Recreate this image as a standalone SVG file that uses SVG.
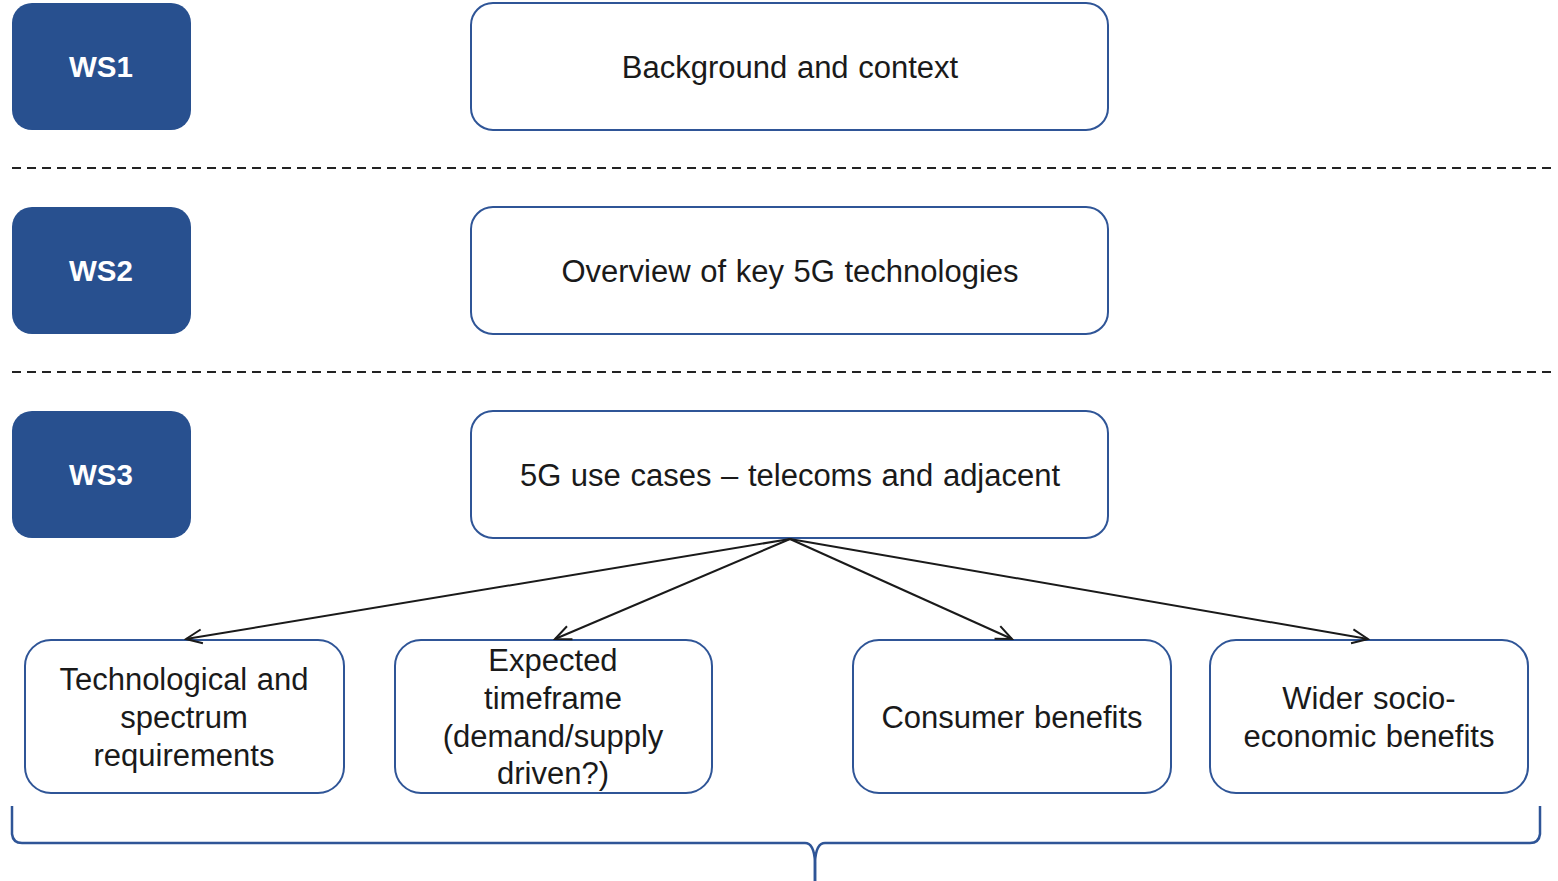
<svg xmlns="http://www.w3.org/2000/svg" width="1558" height="881" viewBox="0 0 1558 881">
<style>
.ws{fill:#28508F;}
.wst{fill:#fff;font-family:"Liberation Sans",Arial,sans-serif;font-weight:bold;font-size:29.5px;text-anchor:middle;}
.box{fill:#fff;stroke:#2F5597;stroke-width:2;}
.t{fill:#1a1a1a;font-family:"Liberation Sans",Arial,sans-serif;font-size:31px;word-spacing:1px;text-anchor:middle;}
.dash{stroke:#222;stroke-width:2;stroke-dasharray:9 6;fill:none;}
.conn{stroke:#1a1a1a;stroke-width:2;fill:none;marker-end:url(#arr);}
.brace{stroke:#2F5597;stroke-width:2.5;fill:none;}
</style>
<defs>
<marker id="arr" viewBox="0 0 20 20" refX="18" refY="10" markerWidth="20" markerHeight="20" markerUnits="userSpaceOnUse" orient="auto">
<path d="M2,3 L18,10 L2,17" fill="none" stroke="#1a1a1a" stroke-width="2"/>
</marker>
</defs>
<rect width="1558" height="881" fill="#fff"/>
<g id="sep">
<line class="dash" x1="12" y1="168" x2="1553" y2="168"/>
<line class="dash" x1="12" y1="372" x2="1553" y2="372"/>
</g>
<g id="ws1"><rect class="ws" x="12" y="3" width="179" height="127" rx="20"/><text class="wst" x="101" y="77">WS1</text></g>
<g id="ws2"><rect class="ws" x="12" y="207" width="179" height="127" rx="20"/><text class="wst" x="101" y="281">WS2</text></g>
<g id="ws3"><rect class="ws" x="12" y="411" width="179" height="127" rx="20"/><text class="wst" x="101" y="485">WS3</text></g>
<g id="background"><rect class="box" x="471" y="3" width="637" height="127" rx="22"/><text class="t" x="790" y="78">Background and context</text></g>
<g id="overview"><rect class="box" x="471" y="207" width="637" height="127" rx="22"/><text class="t" x="790" y="282">Overview of key 5G technologies</text></g>
<g id="usecases"><rect class="box" x="471" y="411" width="637" height="127" rx="22"/><text class="t" x="790" y="486">5G use cases – telecoms and adjacent</text></g>
<g id="tech"><rect class="box" x="25" y="640" width="319" height="153" rx="26"/><text class="t" x="184" y="690">Technological and</text><text class="t" x="184" y="728">spectrum</text><text class="t" x="184" y="766">requirements</text></g>
<g id="timeframe"><rect class="box" x="395" y="640" width="317" height="153" rx="26"/><text class="t" x="553" y="671">Expected</text><text class="t" x="553" y="709">timeframe</text><text class="t" x="553" y="747">(demand/supply</text><text class="t" x="553" y="784">driven?)</text></g>
<g id="consumer"><rect class="box" x="853" y="640" width="318" height="153" rx="26"/><text class="t" x="1012" y="728">Consumer benefits</text></g>
<g id="wider"><rect class="box" x="1210" y="640" width="318" height="153" rx="26"/><text class="t" x="1369" y="709">Wider socio-</text><text class="t" x="1369" y="747">economic benefits</text></g>
<g id="connectors">
<line class="conn" x1="790" y1="539" x2="186" y2="639"/>
<line class="conn" x1="790" y1="539" x2="555" y2="639"/>
<line class="conn" x1="790" y1="539" x2="1012" y2="639"/>
<line class="conn" x1="790" y1="539" x2="1368" y2="639"/>
</g>
<g id="brace">
<path class="brace" d="M12,806 L12,834 Q13,843 22,843 L805,843 Q814,843 815,862 L815,881"/>
<path class="brace" d="M815,881 L815,862 Q816,843 825,843 L1530,843 Q1539,843 1540,834 L1540,806"/>
</g>
</svg>
